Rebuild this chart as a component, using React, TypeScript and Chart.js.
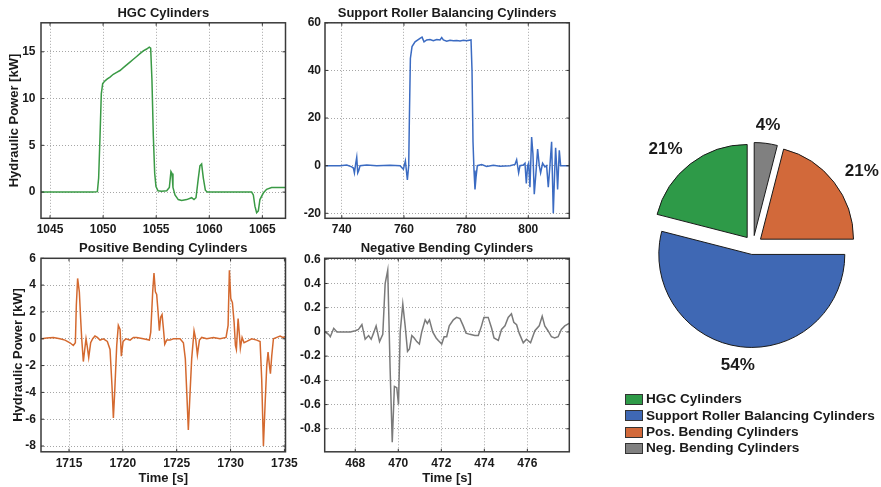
import React, { useEffect, useRef } from 'react';
import { Chart, registerables, ArcElement, PieController } from 'chart.js';

Chart.register(...registerables);

const FONT = '"Liberation Sans", Arial, Helvetica, sans-serif';
const INK = '#1a1a1a';

// HGC cylinders: time [s], hydraulic power [kW]
const hgcTime = [1044.15, 1046.57, 1049.08, 1049.46, 1049.58, 1049.71, 1049.83, 1049.96, 1050.18, 1050.4, 1050.65, 1050.96, 1051.28, 1051.59, 1051.91, 1052.22, 1052.53, 1052.85, 1053.16, 1053.47, 1053.79, 1054.1, 1054.35, 1054.48, 1054.6, 1054.73, 1054.86, 1054.98, 1055.17, 1055.51, 1055.99, 1056.24, 1056.39, 1056.49, 1056.58, 1056.77, 1057.08, 1057.4, 1057.87, 1058.34, 1058.56, 1058.75, 1058.97, 1059.12, 1059.28, 1059.44, 1059.63, 1059.81, 1062.26, 1063.99, 1064.15, 1064.3, 1064.46, 1064.62, 1064.77, 1065.09, 1065.4, 1065.87, 1067.19];
const hgcPower = [0, 0, 0, 0.05, 1.5, 6, 10.5, 11.6, 11.9, 12.1, 12.3, 12.6, 12.8, 13.0, 13.3, 13.6, 13.9, 14.2, 14.5, 14.8, 15.1, 15.3, 15.5, 15.4, 12, 6, 2, 0.6, 0.15, 0.1, 0.15, 0.5, 2.2, 2.0, 0.5, -0.3, -0.8, -0.9, -0.8, -0.6, -0.8, -0.6, 1.5, 2.8, 3.0, 1.5, 0.2, 0, 0, 0, -0.3, -1.5, -2.2, -2.0, -0.8, -0.1, 0.3, 0.5, 0.5];
const hgcXTicks = [1045, 1050, 1055, 1060, 1065];
const hgcYTicks = [0, 5, 10, 15];

// Support roller balancing cylinders
const srbTime = [734.63, 739.45, 741.6, 743.2, 743.74, 744.06, 744.49, 744.81, 745.13, 745.46, 745.88, 748.03, 751.24, 755.53, 758.75, 759.82, 760.46, 761.1, 761.53, 761.75, 762.07, 762.6, 763.57, 765.17, 765.82, 766.46, 767.32, 768.39, 769.46, 770.54, 771.61, 772.15, 772.68, 773.75, 774.82, 775.9, 776.97, 778.04, 779.11, 780.18, 781.58, 781.9, 782.22, 782.54, 782.86, 783.18, 783.61, 785.01, 786.61, 788.76, 790.9, 794.12, 795.72, 796.26, 796.9, 797.33, 798.4, 798.94, 799.37, 799.79, 800.11, 800.54, 801.08, 801.5, 801.93, 802.47, 803.01, 803.54, 803.97, 804.61, 805.36, 805.9, 806.44, 806.97, 807.51, 808.05, 808.48, 808.8, 809.12, 809.44, 809.98, 810.41, 811.27, 813.2];
const srbPower = [0, 0, 0.3, -0.5, -1, -3, 1, 3.5, -3, -2, 0, 0.3, 0, 0.2, 0, -1.5, 2, -6, 0, 20, 45, 50, 52, 53.5, 54, 52, 52.8, 53, 52.5, 53, 52.8, 53.8, 52.8, 52.3, 52.7, 52.5, 52.6, 52.4, 52.7, 52.5, 52.8, 40, 10, -2, -10, -5, 0, 0.5, -0.3, 0.2, -0.2, 0, 0.5, 2.5, -3, 0, 0.3, 1, -7.5, 0, 1, -9, 12, 5, -12, -3, 7, 0, -3, 1, -0.5, 0, -9, 0, 10, -20, -3, 7.5, 0, -10, 6.5, 0, 0, 0];
const srbXTicks = [740, 760, 780, 800];
const srbYTicks = [-20, 0, 20, 40, 60];

// Positive bending cylinders
const pbTime = [1712.46, 1712.93, 1713.54, 1714.16, 1714.63, 1715.09, 1715.4, 1715.59, 1715.68, 1715.8, 1715.96, 1716.08, 1716.18, 1716.33, 1716.46, 1716.58, 1716.7, 1716.83, 1717.01, 1717.2, 1717.41, 1717.63, 1717.88, 1718.19, 1718.56, 1718.81, 1718.99, 1719.12, 1719.24, 1719.43, 1719.58, 1719.74, 1719.86, 1720.02, 1720.29, 1720.67, 1720.98, 1721.28, 1721.9, 1722.46, 1722.59, 1722.77, 1722.89, 1723.02, 1723.14, 1723.27, 1723.39, 1723.51, 1723.64, 1723.76, 1723.89, 1724.07, 1724.38, 1724.69, 1725.31, 1725.62, 1725.8, 1725.96, 1726.08, 1726.24, 1726.39, 1726.61, 1726.76, 1726.92, 1727.11, 1727.32, 1727.79, 1728.41, 1729.02, 1729.58, 1729.77, 1729.89, 1730.02, 1730.17, 1730.33, 1730.45, 1730.54, 1730.7, 1730.82, 1730.91, 1731.07, 1731.25, 1731.5, 1731.97, 1732.43, 1732.74, 1732.89, 1733.05, 1733.2, 1733.36, 1733.48, 1733.61, 1733.7, 1733.82, 1733.98, 1734.29, 1734.6, 1734.85, 1735.06];
const pbPower = [0, 0.05, 0.1, 0, -0.1, -0.3, -0.5, -0.3, 2.5, 4.5, 3.5, 1.5, 0, -1.7, -0.8, 0, -0.6, -1.4, -0.3, 0, 0.2, 0.1, -0.1, 0, -0.2, -0.8, -3.5, -5.9, -4.0, -0.5, 1.0, 0.7, -1.3, -0.2, 0, -0.1, 0.1, 0.1, 0, -0.1, 0.5, 3.5, 4.9, 3.5, 3.3, 2.0, 0.6, 1.6, 1.8, 0.8, -0.4, -0.1, -0.1, 0, 0, -0.3, -1.5, -4.5, -6.8, -4.0, -1.5, 0.6, 0, -1.2, -0.1, 0.1, 0, 0.1, 0, 0.1, 1.0, 5.1, 3.0, 2.7, 1.2, -0.5, -0.8, 1.5, 0.3, -0.7, 0.1, -0.3, -0.2, 0, -0.1, -0.2, -3.0, -8.0, -5.0, -2.0, -1.0, -2.0, -2.6, -1.3, 0, 0.1, 0.2, 0.1, 0.15];
const pbXTicks = [1715, 1720, 1725, 1730, 1735];
const pbYTicks = [-8, -6, -4, -2, 0, 2, 4, 6];

// Negative bending cylinders
const nbTime = [466.58, 466.76, 466.84, 467.0, 467.15, 467.46, 467.77, 468.0, 468.15, 468.31, 468.46, 468.62, 468.74, 468.85, 468.97, 469.13, 469.28, 469.39, 469.51, 469.62, 469.72, 469.82, 469.93, 470.01, 470.09, 470.21, 470.32, 470.43, 470.52, 470.63, 470.74, 470.86, 470.98, 471.09, 471.25, 471.35, 471.45, 471.6, 471.76, 471.86, 472.02, 472.13, 472.25, 472.37, 472.56, 472.71, 472.87, 473.02, 473.15, 473.33, 473.56, 473.72, 473.87, 473.98, 474.18, 474.34, 474.45, 474.65, 474.8, 474.96, 475.11, 475.26, 475.37, 475.5, 475.62, 475.81, 475.96, 476.15, 476.35, 476.55, 476.69, 476.81, 476.96, 477.12, 477.27, 477.43, 477.58, 477.74, 477.94];
const nbPower = [0, -0.02, -0.04, 0.03, 0, 0, 0, 0.01, 0.02, 0.06, -0.06, -0.03, -0.06, -0.01, 0.05, -0.08, -0.02, 0.4, 0.51, -0.3, -0.91, -0.45, -0.46, -0.6, 0, 0.23, 0.05, -0.16, -0.14, -0.03, -0.05, -0.08, -0.1, 0, 0.1, 0.07, 0.1, 0, -0.05, -0.07, -0.1, -0.04, -0.04, 0.05, 0.1, 0.12, 0.11, 0.05, -0.01, -0.02, -0.03, -0.03, 0.05, 0.12, 0.12, 0.03, -0.05, -0.07, 0.02, 0.05, 0.12, 0.15, 0.08, 0.06, -0.01, -0.09, -0.06, -0.09, 0.01, 0.05, 0.13, 0.05, 0.01, -0.04, -0.05, -0.04, 0.02, 0.05, 0.07];
const nbXTicks = [468, 470, 472, 474, 476];
const nbYTicks = [-0.8, -0.6, -0.4, -0.2, 0, 0.2, 0.4, 0.6];

// Share of hydraulic energy per cylinder group [%]
const shareLabels = ['HGC Cylinders', 'Support Roller Balancing Cylinders', 'Pos. Bending Cylinders', 'Neg. Bending Cylinders'];
const shareValues = [21, 54, 21, 4];
const shareColors = ['#2e9a48', '#3f68b4', '#d2693a', '#808080'];

// Pie slice that is pushed out from the centre along its mid angle
class ExplodedArc extends ArcElement {
  static id = 'explodedArc';
  static defaults = { explode: 0 };
  draw(ctx) {
    const gap = this.options.explode || 0;
    const mid = (this.startAngle + this.endAngle) / 2;
    ctx.save();
    ctx.translate(Math.cos(mid) * gap, Math.sin(mid) * gap);
    super.draw(ctx);
    ctx.restore();
  }
}
class ExplodedPieController extends PieController {
  static id = 'explodedPie';
  static defaults = { dataElementType: 'explodedArc' };
}
Chart.register(ExplodedArc, ExplodedPieController);

// Closed axes box, inward tick marks and the panel heading
const framePlugin = {
  id: 'frame',
  afterDatasetsDraw(chart, _args, opts) {
    const { ctx, chartArea: a } = chart;
    const xs = chart.scales.x;
    const ys = chart.scales.y;
    const L = 3;
    ctx.save();
    ctx.strokeStyle = '#333';
    ctx.lineWidth = 1;
    ctx.beginPath();
    xs.ticks.forEach((t) => {
      const px = xs.getPixelForValue(t.value);
      ctx.moveTo(px, a.bottom);
      ctx.lineTo(px, a.bottom - L);
      ctx.moveTo(px, a.top);
      ctx.lineTo(px, a.top + L);
    });
    ys.ticks.forEach((t) => {
      const py = ys.getPixelForValue(t.value);
      ctx.moveTo(a.left, py);
      ctx.lineTo(a.left + L, py);
      ctx.moveTo(a.right, py);
      ctx.lineTo(a.right - L, py);
    });
    ctx.stroke();
    ctx.lineWidth = 1.5;
    ctx.strokeStyle = '#3a3a3a';
    ctx.strokeRect(a.left, a.top, a.right - a.left, a.bottom - a.top);
    ctx.font = `bold 13px ${FONT}`;
    ctx.fillStyle = INK;
    ctx.textAlign = 'center';
    ctx.textBaseline = 'middle';
    ctx.fillText(opts.title, (a.left + a.right) / 2, opts.titleY);
    ctx.restore();
  },
};

// Percentage labels outside the slices
const sliceLabelPlugin = {
  id: 'sliceLabels',
  afterDatasetsDraw(chart, _args, opts) {
    const { ctx } = chart;
    const meta = chart.getDatasetMeta(0);
    const values = chart.data.datasets[0].data;
    ctx.save();
    ctx.font = `bold ${opts.size}px ${FONT}`;
    ctx.fillStyle = INK;
    ctx.textBaseline = 'middle';
    ctx.textAlign = 'center';
    meta.data.forEach((arc, i) => {
      const { x, y, startAngle, endAngle, outerRadius } = arc.getProps(['x', 'y', 'startAngle', 'endAngle', 'outerRadius'], true);
      const mid = (startAngle + endAngle) / 2;
      const c = Math.cos(mid);
      const s = Math.sin(mid);
      const d = outerRadius * opts.distance;
      const text = `${values[i]}%`;
      const half = ctx.measureText(text).width / 2;
      const push = Math.abs(c) > 0.3 ? Math.sign(c) * half * 0.78 : 0;
      ctx.fillText(text, x + c * d + push, y + s * d);
    });
    ctx.restore();
  },
};

const panels = [
  {
    key: 'hgc', title: 'HGC Cylinders', time: hgcTime, power: hgcPower, color: '#3a9a45',
    xMin: 1044.15, xMax: 1067.18, yMin: -2.8, yMax: 18.1, xTicks: hgcXTicks, yTicks: hgcYTicks,
    left: 0, top: 0, width: 305, height: 242, padTop: 22.8, padRight: 19.5,
    yAxisWidth: 41, xAxisHeight: 23.7, yTickPad: 5.5, yTitlePad: 7, xTitle: false, titleY: 13.3,
  },
  {
    key: 'srb', title: 'Support Roller Balancing Cylinders', time: srbTime, power: srbPower, color: '#3b6bc2',
    xMin: 734.6, xMax: 813.2, yMin: -22.1, yMax: 60, xTicks: srbXTicks, yTicks: srbYTicks,
    left: 290, top: 0, width: 300, height: 242, padTop: 22.8, padRight: 20.7,
    yAxisWidth: 35, xAxisHeight: 23.7, yTickPad: 4, yTitlePad: null, xTitle: false, titleY: 13.3,
  },
  {
    key: 'pb', title: 'Positive Bending Cylinders', time: pbTime, power: pbPower, color: '#d4692f',
    xMin: 1712.4, xMax: 1735.1, yMin: -8.43, yMax: 6, xTicks: pbXTicks, yTicks: pbYTicks,
    left: 0, top: 240, width: 305, height: 247, padTop: 18.3, padRight: 19.5,
    yAxisWidth: 41, xAxisHeight: 35.2, yTickPad: 5, yTitlePad: 10.5, xTitle: true, titleY: 8.3,
  },
  {
    key: 'nb', title: 'Negative Bending Cylinders', time: nbTime, power: nbPower, color: '#7a7a7a',
    xMin: 466.58, xMax: 477.95, yMin: -0.99, yMax: 0.608, xTicks: nbXTicks, yTicks: nbYTicks,
    left: 290, top: 240, width: 300, height: 247, padTop: 18.3, padRight: 20.7,
    yAxisWidth: 34.7, xAxisHeight: 35.2, yTickPad: 4, yTitlePad: null, xTitle: true, titleY: 8.3,
  },
];

const tickFont = { family: FONT, size: 12, weight: 'bold', lineHeight: 1.2 };
const labelFont = { family: FONT, size: 13, weight: 'bold', lineHeight: 1.2 };
const gridStyle = { color: '#a6a6a6', lineWidth: 1, drawTicks: false };

function LinePanel({ p }) {
  const ref = useRef(null);
  useEffect(() => {
    const chart = new Chart(ref.current, {
      type: 'line',
      data: {
        datasets: [{
          data: p.time.map((t, i) => ({ x: t, y: p.power[i] })),
          borderColor: p.color,
          borderWidth: 1.5,
          pointRadius: 0,
          tension: 0,
        }],
      },
      options: {
        animation: false,
        responsive: false,
        devicePixelRatio: 1,
        events: [],
        layout: { padding: { top: p.padTop, right: p.padRight, left: 0, bottom: 0 } },
        plugins: {
          legend: { display: false },
          tooltip: { enabled: false },
          frame: { title: p.title, titleY: p.titleY },
        },
        scales: {
          x: {
            type: 'linear',
            min: p.xMin,
            max: p.xMax,
            afterBuildTicks: (s) => { s.ticks = p.xTicks.map((v) => ({ value: v })); },
            afterFit: (s) => { s.height = p.xAxisHeight; },
            grid: gridStyle,
            border: { display: false, dash: [1, 2] },
            ticks: { padding: 4.2, font: tickFont, color: INK, autoSkip: false, maxRotation: 0, callback: (v) => String(v) },
            title: p.xTitle
              ? { display: true, text: 'Time [s]', font: labelFont, color: INK, padding: { top: 0, bottom: 0.9 } }
              : { display: false },
          },
          y: {
            type: 'linear',
            min: p.yMin,
            max: p.yMax,
            afterBuildTicks: (s) => { s.ticks = p.yTicks.map((v) => ({ value: v })); },
            afterFit: (s) => { s.width = p.yAxisWidth; },
            grid: gridStyle,
            border: { display: false, dash: [1, 2] },
            ticks: { padding: p.yTickPad, font: tickFont, color: INK, autoSkip: false, callback: (v) => String(v) },
            title: p.yTitlePad != null
              ? { display: true, text: 'Hydraulic Power [kW]', font: labelFont, color: INK, padding: { top: p.yTitlePad, bottom: 0 } }
              : { display: false },
          },
        },
      },
      plugins: [framePlugin],
    });
    return () => chart.destroy();
  }, [p]);
  return (
    <canvas
      ref={ref}
      width={p.width}
      height={p.height}
      style={{ position: 'absolute', left: p.left, top: p.top, width: p.width, height: p.height }}
    />
  );
}

function SharePie() {
  const ref = useRef(null);
  useEffect(() => {
    // drawn clockwise from the top, so the series is reversed
    const labels = [...shareLabels].reverse();
    const values = [...shareValues].reverse();
    const colors = [...shareColors].reverse();
    const chart = new Chart(ref.current, {
      type: 'explodedPie',
      data: {
        labels,
        datasets: [{
          data: values,
          backgroundColor: colors,
          borderColor: '#1a1a1a',
          borderWidth: 1,
          radius: 93,
          explode: 9.5,
        }],
      },
      options: {
        animation: false,
        responsive: false,
        devicePixelRatio: 1,
        events: [],
        layout: { padding: { left: 25, right: 0, top: 0, bottom: 10 } },
        plugins: {
          legend: { display: false },
          tooltip: { enabled: false },
          sliceLabels: { size: 17, distance: 1.3 },
        },
      },
      plugins: [sliceLabelPlugin],
    });
    return () => chart.destroy();
  }, []);
  return (
    <canvas
      ref={ref}
      width={281}
      height={300}
      style={{ position: 'absolute', left: 600, top: 100, width: 281, height: 300 }}
    />
  );
}

function ShareLegend() {
  return (
    <div style={{ position: 'absolute', left: 625, top: 391.4 }}>
      {shareLabels.map((label, i) => (
        <div key={label} style={{ display: 'flex', alignItems: 'center', height: 16.3 }}>
          <span
            style={{
              display: 'inline-block', width: 18, height: 11, boxSizing: 'border-box',
              background: shareColors[i], border: '1px solid #333', marginRight: 3,
            }}
          />
          <span style={{ font: `bold 13.6px ${FONT}`, color: INK, lineHeight: '16.3px', whiteSpace: 'nowrap' }}>
            {label}
          </span>
        </div>
      ))}
    </div>
  );
}

export default function App() {
  return (
    <div
      style={{
        position: 'absolute', left: 0, top: 0, width: 881, height: 487,
        background: '#fff', overflow: 'hidden', fontFamily: FONT,
      }}
    >
      {panels.map((p) => (
        <LinePanel key={p.key} p={p} />
      ))}
      <SharePie />
      <ShareLegend />
    </div>
  );
}
